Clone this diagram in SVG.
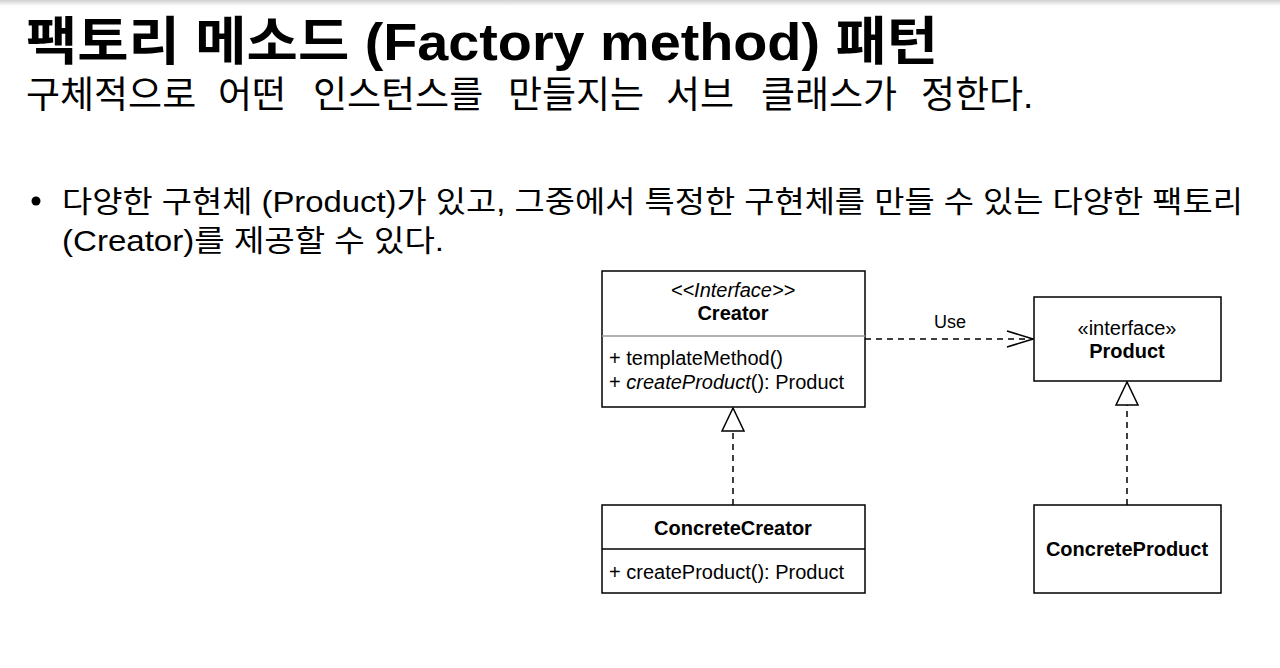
<svg xmlns="http://www.w3.org/2000/svg" width="1280" height="668" viewBox="0 0 1280 668">
<defs>
<linearGradient id="topShade" x1="0" y1="0" x2="0" y2="1">
<stop offset="0" stop-color="#d0d0d0"/>
<stop offset="1" stop-color="#ffffff"/>
</linearGradient>
<marker id="openArrow" markerWidth="30" markerHeight="30" refX="28" refY="10" orient="auto" markerUnits="userSpaceOnUse" viewBox="0 0 30 20">
<path d="M2,2 L28,10 L2,18" fill="none" stroke="#000" stroke-width="1.5"/>
</marker>
<marker id="hollowTri" markerWidth="26" markerHeight="26" refX="24" refY="12" orient="auto" markerUnits="userSpaceOnUse" viewBox="0 0 26 24">
<path d="M1,1 L24,12 L1,23 Z" fill="#fff" stroke="#000" stroke-width="1.5"/>
</marker>
</defs>
<style>
.ko{font-family:"Liberation Sans","Noto Sans CJK KR",sans-serif;fill:#000}
.t{font-size:52px;font-weight:bold}
.st{font-size:37px}
.b{font-size:30px}
.u{font-family:"Liberation Sans",Arial,sans-serif;font-size:20px;fill:#000}
.lbl{font-family:"Liberation Sans",Arial,sans-serif;font-size:18px;fill:#000}
.bold{font-weight:bold}
.it{font-style:italic}
.box{fill:#fff;stroke:#000;stroke-width:1.5}
.conn{fill:none;stroke:#000;stroke-width:1.5;stroke-dasharray:6,5}
</style>
<rect x="0" y="0" width="1280" height="668" fill="#fff"/>
<rect x="0" y="0" width="1280" height="6" fill="url(#topShade)"/>

<g id="header">
<text class="ko t" x="26" y="60" textLength="912" lengthAdjust="spacingAndGlyphs">팩토리 메소드 (Factory method) 패턴</text>
<text class="ko st" y="108"><tspan x="26">구체적으로</tspan><tspan x="218">어떤</tspan><tspan x="313">인스턴스를</tspan><tspan x="508">만들지는</tspan><tspan x="666">서브</tspan><tspan x="761">클래스가</tspan><tspan x="921">정한다.</tspan></text>
<circle cx="36" cy="201" r="4.5" fill="#000"/>
<text class="ko b" x="62" y="212" textLength="1181" lengthAdjust="spacingAndGlyphs">다양한 구현체 (Product)가 있고, 그중에서 특정한 구현체를 만들 수 있는 다양한 팩토리</text>
<text class="ko b" x="62" y="251" textLength="382" lengthAdjust="spacingAndGlyphs">(Creator)를 제공할 수 있다.</text>
</g>

<g id="connectors">
<line class="conn" x1="865" y1="339" x2="1033" y2="339" marker-end="url(#openArrow)"/>
<text class="lbl" x="950" y="328" text-anchor="middle">Use</text>
<line class="conn" x1="733" y1="505" x2="733" y2="408" marker-end="url(#hollowTri)"/>
<line class="conn" x1="1127" y1="505" x2="1127" y2="382" marker-end="url(#hollowTri)"/>
</g>

<g id="creator">
<rect class="box" x="602" y="271" width="263" height="136"/>
<line x1="602" y1="336" x2="865" y2="336" stroke="#999" stroke-width="1.5"/>
<text class="u it" x="733" y="297" text-anchor="middle">&lt;&lt;Interface&gt;&gt;</text>
<text class="u bold" x="733" y="320" text-anchor="middle">Creator</text>
<text class="u" x="609" y="365">+ templateMethod()</text>
<text class="u" x="609" y="389">+ <tspan class="it">createProduct</tspan>(): Product</text>
</g>

<g id="product">
<rect class="box" x="1034" y="297" width="187" height="84"/>
<text class="u" x="1127" y="335" text-anchor="middle">«interface»</text>
<text class="u bold" x="1127" y="358" text-anchor="middle">Product</text>
</g>

<g id="concreteCreator">
<rect class="box" x="602" y="505" width="263" height="88"/>
<line x1="602" y1="549" x2="865" y2="549" stroke="#000" stroke-width="1.5"/>
<text class="u bold" x="733" y="535" text-anchor="middle">ConcreteCreator</text>
<text class="u" x="609" y="579">+ createProduct(): Product</text>
</g>

<g id="concreteProduct">
<rect class="box" x="1034" y="505" width="187" height="88"/>
<text class="u bold" x="1127" y="556" text-anchor="middle">ConcreteProduct</text>
</g>
</svg>
